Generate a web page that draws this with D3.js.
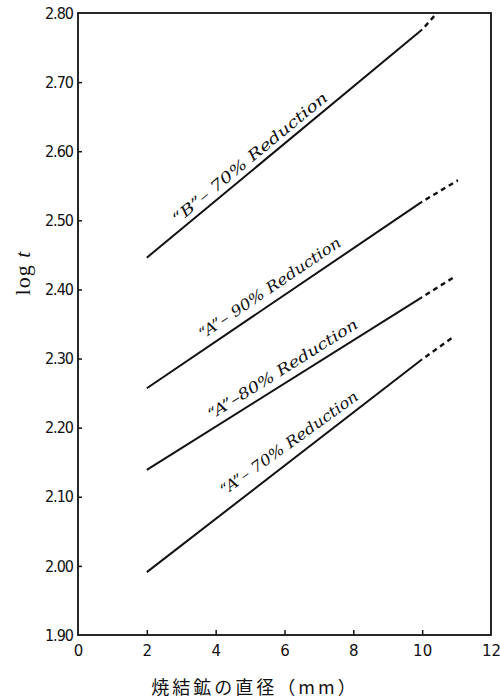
<!DOCTYPE html>
<html>
<head>
<meta charset="utf-8">
<script src="https://cdn.jsdelivr.net/npm/d3@7"></script>
<style>
  html, body { margin: 0; padding: 0; background: #fff; }
</style>
</head>
<body>
<div id="chart"></div>
<script>
// x ticks and y ticks
const xTicks = [0, 2, 4, 6, 8, 10, 12];
const yTicks = [1.90, 2.00, 2.10, 2.20, 2.30, 2.40, 2.50, 2.60, 2.70, 2.80];

// series: solid part [x, y] and dashed extension
const seriesNames = ["\u201CB\u201D\u2013 70% Reduction", "\u201CA\u201D\u2013 90% Reduction", "\u201CA\u201D\u201380% Reduction", "\u201CA\u201D\u2013 70% Reduction"];
const solidB70 = [[2, 2.446], [10, 2.776]];
const dashB70 = [[10, 2.776], [10.43, 2.80]];
const solidA90 = [[2, 2.257], [10, 2.527]];
const dashA90 = [[10, 2.527], [11.04, 2.558]];
const solidA80 = [[2, 2.139], [10, 2.389]];
const dashA80 = [[10, 2.389], [10.9, 2.417]];
const solidA70 = [[2, 1.991], [10, 2.299]];
const dashA70 = [[10, 2.299], [10.87, 2.330]];
// where each label sits along its line (x in mm)
const labelAt = [5.2, 5.8, 6.15, 6.4];

const series = [
  { name: seriesNames[0], solid: solidB70, dash: dashB70, at: labelAt[0], len: 196, off: -6, tilt: 0 },
  { name: seriesNames[1], solid: solidA90, dash: dashA90, at: labelAt[1], len: 168, off: -9, tilt: 0 },
  { name: seriesNames[2], solid: solidA80, dash: dashA80, at: labelAt[2], len: 174, off: -8, tilt: 0 },
  { name: seriesNames[3], solid: solidA70, dash: dashA70, at: labelAt[3], len: 166, off: -10, tilt: 2 }
];

const width = 500, height = 699;
const margin = { top: 13, right: 9, bottom: 64, left: 78 };

const svg = d3.select("#chart")
  .append("svg")
  .attr("width", width)
  .attr("height", height);

const x = d3.scaleLinear().domain([0, 12]).range([margin.left, width - margin.right]);
const y = d3.scaleLinear().domain([1.90, 2.80]).range([height - margin.bottom, margin.top]);

// frame
svg.append("rect")
  .attr("x", x(0)).attr("y", y(2.80))
  .attr("width", x(12) - x(0)).attr("height", y(1.90) - y(2.80))
  .attr("fill", "none").attr("stroke", "#111").attr("stroke-width", 1.8);

// axes, ticks pointing inward
const xAxis = svg.append("g")
  .attr("transform", `translate(0,${y(1.90)})`)
  .call(d3.axisBottom(x).tickValues(xTicks).tickSizeInner(-5).tickSizeOuter(0).tickPadding(10));
xAxis.select(".domain").remove();
xAxis.selectAll("line").attr("stroke", "#111").attr("stroke-width", 1.5);
xAxis.selectAll("text")
  .attr("font-family", "DejaVu Sans, sans-serif")
  .attr("font-size", 15)
  .attr("fill", "#111");
xAxis.selectAll(".tick").filter(d => d === 0 || d === 12).select("line").remove();

const yAxis = svg.append("g")
  .attr("transform", `translate(${x(0)},0)`)
  .call(d3.axisLeft(y).tickValues(yTicks).tickFormat(d3.format(".2f")).tickSizeInner(-4).tickSizeOuter(0).tickPadding(5));
yAxis.select(".domain").remove();
yAxis.selectAll("line").attr("stroke", "#111").attr("stroke-width", 1.5);
yAxis.selectAll("text")
  .attr("font-family", "DejaVu Sans Condensed, DejaVu Sans, sans-serif")
  .attr("font-size", 16)
  .attr("letter-spacing", -1)
  .attr("fill", "#111");
yAxis.selectAll(".tick").filter(d => d === 1.90 || d === 2.80).select("line").remove();

const line = d3.line().x(d => x(d[0])).y(d => y(d[1]));

series.forEach(s => {
  svg.append("path").datum(s.solid)
    .attr("d", line)
    .attr("fill", "none").attr("stroke", "#111").attr("stroke-width", 2);
  svg.append("path").datum(s.dash)
    .attr("d", line)
    .attr("fill", "none").attr("stroke", "#111").attr("stroke-width", 2.4)
    .attr("stroke-dasharray", "5,4").attr("stroke-dashoffset", 5);

  // label along the line
  const [p0, p1] = s.solid;
  const angle = Math.atan2(y(p1[1]) - y(p0[1]), x(p1[0]) - x(p0[0])) * 180 / Math.PI;
  const t = (s.at - p0[0]) / (p1[0] - p0[0]);
  const ly = p0[1] + t * (p1[1] - p0[1]);
  svg.append("text")
    .attr("transform", `translate(${x(s.at)},${y(ly)}) rotate(${angle}) translate(0,${s.off}) rotate(${s.tilt})`)
    .attr("text-anchor", "middle")
    .attr("font-family", "DejaVu Serif, serif")
    .attr("font-style", "italic")
    .attr("font-size", 15)
    .attr("textLength", s.len)
    .attr("lengthAdjust", "spacingAndGlyphs")
    .attr("fill", "#111")
    .text(s.name);
});

// axis titles
svg.append("text")
  .attr("transform", `translate(30,273) rotate(-90)`)
  .attr("text-anchor", "middle")
  .attr("font-family", "Liberation Serif, serif")
  .attr("font-size", 22)
  .attr("letter-spacing", 1)
  .attr("fill", "#111")
  .html('log <tspan font-style="italic">t</tspan>');

svg.append("text")
  .attr("x", 255)
  .attr("y", 694)
  .attr("text-anchor", "middle")
  .attr("font-family", "Noto Sans CJK JP, sans-serif")
  .attr("font-size", 18)
  .attr("letter-spacing", 3)
  .attr("fill", "#111")
  .text("焼結鉱の直径（mm）");
</script>
</body>
</html>
